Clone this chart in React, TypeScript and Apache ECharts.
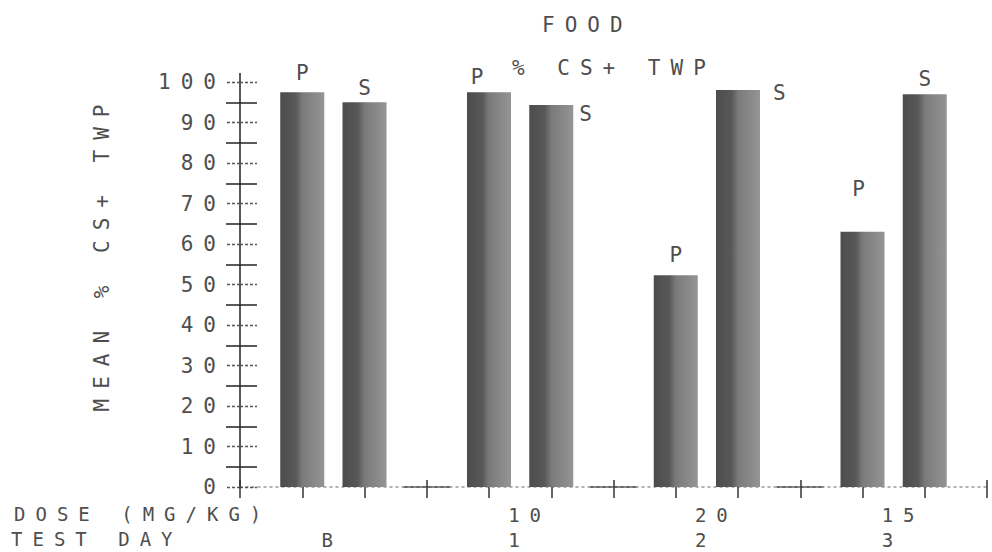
import React, { useEffect, useRef } from "react";
import * as echarts from "echarts";

// ---- data ----
const doseLabels = ["", "10", "20", "15"];
const dayLabels = ["B", "1", "2", "3"];
const pValues = [97.5, 97.5, 52.3, 63];
const sValues = [95, 94.3, 98, 97];
const yMin = 0;
const yMax = 100;
const yInterval = 10;
const xMin = 0;
const xMax = 12;
const gapTicks = [3, 6, 9];
const titleText = "FOOD";
const subtitleText = "% CS+ TWP";
const yAxisName = "MEAN % CS+ TWP";
const doseName = "DOSE (MG/KG)";
const dayName = "TEST DAY";

// ---- style / layout ----
const FONT = "DejaVu Sans Mono";
const FS = 21;
const FS_BOTTOM = 19;
const TXT = "#4e4e4e";
const LS = 10; // letter spacing applied by CSS

const pLabelLayout: any[] = [
  { position: "top", distance: 9, offset: [LS / 2, 0] },
  { position: "top", distance: 5, offset: [LS / 2 - 12, 0] },
  { position: "top", distance: 10, offset: [LS / 2, 0] },
  { position: "top", distance: 32, offset: [LS / 2 - 4, 0] },
];
const sLabelLayout: any[] = [
  { position: "top", distance: 4, offset: [LS / 2, 0] },
  { position: ["100%", 0], align: "left", verticalAlign: "middle", offset: [6, 9] },
  { position: ["100%", 0], align: "left", verticalAlign: "middle", offset: [13, 3] },
  { position: "top", distance: 5, offset: [LS / 2, 0] },
];

function txt(text: string, x: number, y: number, align = "left", rotation = 0, size = FS) {
  return {
    type: "text",
    x,
    y,
    rotation,
    silent: true,
    style: {
      text,
      fontFamily: FONT,
      fontSize: size,
      fill: TXT,
      align,
      verticalAlign: "middle",
      textAlign: align,
      textVerticalAlign: "middle",
    },
  };
}

export default function App() {
  const ref = useRef<HTMLDivElement>(null);
  useEffect(() => {
    const chart = echarts.init(ref.current!, null, { renderer: "svg" });
    const barColor = new echarts.graphic.LinearGradient(0, 0, 1, 0, [
      { offset: 0, color: "#4c4c4c" },
      { offset: 0.35, color: "#585858" },
      { offset: 0.5, color: "#7a7a7a" },
      { offset: 1, color: "#959595" },
    ]);
    const labelBase = { show: true, formatter: "{a}", fontFamily: FONT, fontSize: FS, color: TXT };
    const pData = pValues.map((v, i) => ({ value: [3 * i + 1, v], label: pLabelLayout[i] }));
    const sData = sValues.map((v, i) => ({ value: [3 * i + 2, v], label: sLabelLayout[i] }));
    const yBase = { type: "value", min: yMin, max: yMax, interval: yInterval, position: "left", splitLine: { show: false } };
    const xBase = { type: "value", min: xMin, max: xMax, interval: 1, splitLine: { show: false }, axisLabel: { show: false } };
    chart.setOption({
      animation: false,
      grid: { left: 240, right: 5, top: 82, bottom: 65 },
      xAxis: [
        {
          ...xBase,
          axisLine: { show: true, lineStyle: { color: "#9a9a9a", width: 1.5, type: [2, 4] } },
          axisTick: { show: true, length: 11, lineStyle: { color: "#333", width: 1.5 } },
        },
        {
          ...xBase,
          position: "bottom",
          axisLine: { show: false },
          axisTick: { show: true, inside: true, length: 7, lineStyle: { color: "#333", width: 1.5 } },
        },
      ],
      yAxis: [
        {
          ...yBase,
          axisLine: { show: true, lineStyle: { color: "#222", width: 1.5 } },
          axisTick: { show: true, length: 14, lineStyle: { color: "#555", width: 1.3, type: [3, 2] } },
          minorTick: { show: true, splitNumber: 2, length: 14, lineStyle: { color: "#222", width: 1.5 } },
          axisLabel: { margin: 14, fontFamily: FONT, fontSize: FS, color: TXT },
        },
        {
          ...yBase,
          offset: 0,
          axisLine: { show: false },
          axisTick: { show: true, inside: true, length: 17, lineStyle: { color: "#555", width: 1.3, type: [3, 2] } },
          minorTick: { show: true, splitNumber: 2, length: 17, lineStyle: { color: "#222", width: 1.5 } },
          axisLabel: { show: false },
        },
      ],
      series: [
        {
          type: "bar",
          name: "P",
          data: pData,
          barWidth: 44,
          barGap: "-100%",
          silent: true,
          itemStyle: { color: barColor },
          label: labelBase,
        },
        {
          type: "bar",
          name: "S",
          data: sData,
          barWidth: 44,
          barGap: "-100%",
          silent: true,
          itemStyle: { color: barColor },
          label: labelBase,
        },
      ],
    });

    const px = (x: number, y: number) => chart.convertToPixel({ seriesIndex: 0 }, [x, y]) as number[];
    const top = px(0, yMax);
    const graphics: any[] = [
      {
        type: "line",
        silent: true,
        shape: { x1: top[0], y1: top[1], x2: top[0], y2: top[1] - 9 },
        style: { stroke: "#222", lineWidth: 1.5 },
      },
      txt(titleText, 542, 25),
      txt(subtitleText, 512, 68),
      txt(yAxisName, 102, 253, "center", Math.PI / 2),
      txt(doseName, 14, 514, "left", 0, FS_BOTTOM),
      txt(dayName, 11, 539, "left", 0, FS_BOTTOM),
    ];
    gapTicks.forEach((g) => {
      const a = px(g - 0.38, 0);
      const b = px(g + 0.38, 0);
      graphics.push({
        type: "line",
        silent: true,
        shape: { x1: a[0], y1: a[1], x2: b[0], y2: b[1] },
        style: { stroke: "#333", lineWidth: 1.5 },
      });
    });
    doseLabels.forEach((d, i) => {
      const c = px(3 * i + 1.5, 0);
      if (d) graphics.push(txt(d, c[0] - 12, 515, "left", 0, FS_BOTTOM));
      graphics.push(txt(dayLabels[i], c[0] - 12, 540, "left", 0, FS_BOTTOM));
    });
    chart.setOption({ graphic: graphics });
    return () => chart.dispose();
  }, []);
  return (
    <>
      <style>{`#food-chart text { letter-spacing: ${LS}px; }`}</style>
      <div
        id="food-chart"
        ref={ref}
        style={{ position: "fixed", left: 0, top: 0, width: 992, height: 552, background: "#fff" }}
      />
    </>
  );
}
